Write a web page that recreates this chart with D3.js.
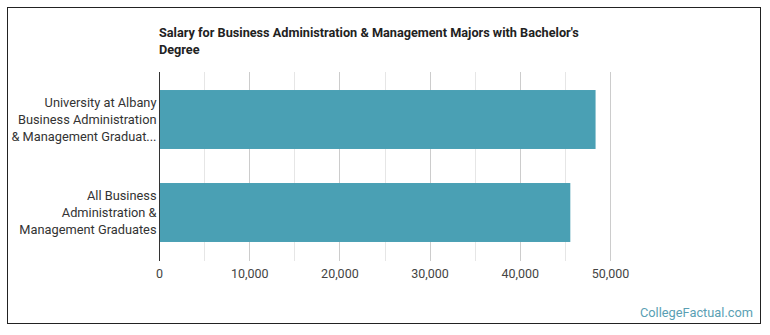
<!DOCTYPE html>
<html>
<head>
<meta charset="utf-8">
<script src="https://cdn.jsdelivr.net/npm/d3@7"></script>
<style>
  body { margin:0; background:#fff; }
  svg { display:block; font-family: Roboto, "Noto Sans", sans-serif; }
</style>
</head>
<body>
<svg id="chart"></svg>
<script>
// chart data
var titleLines = ["Salary for Business Administration & Management Majors with Bachelor's", "Degree"];
var categories = ["albany", "all"];
var categoryLabels = [
  ["University at Albany", "Business Administration", "& Management Graduat..."],
  ["All Business", "Administration &", "Management Graduates"]
];
var salaries = [48400, 45600];
var tickValues = [0, 10000, 20000, 30000, 40000, 50000];
var gridValues = d3.range(0, 50001, 5000);

var width = 770, height = 335;
var plot = {left:159, right:610, top:73, bottom:259};

var svg = d3.select('#chart').attr('width', width).attr('height', height);

// frame
svg.append('rect')
  .attr('x', 7.5).attr('y', 7.5)
  .attr('width', 753).attr('height', 316)
  .style('fill', '#fff').style('stroke', '#222').style('stroke-width', 1);

// title
svg.append('text')
  .attr('x', plot.left).attr('y', 37)
  .style('font-size', '12.7px').style('font-weight', 'bold').style('fill', '#222')
  .selectAll('tspan').data(titleLines).enter().append('tspan')
  .attr('x', plot.left).attr('dy', function(d, i){ return i === 0 ? 0 : 17; })
  .text(function(d){ return d; });

var xScale = d3.scaleLinear().domain([0, 50000]).range([plot.left, plot.right]);
var yScale = d3.scaleBand().domain(categories).range([plot.top, plot.bottom])
  .paddingInner(0.366).paddingOuter(0.183);

// grid
svg.append('g').selectAll('line').data(gridValues).enter().append('line')
  .attr('x1', function(d){ return Math.round(xScale(d)) + 0.5; })
  .attr('x2', function(d){ return Math.round(xScale(d)) + 0.5; })
  .attr('y1', plot.top - 1).attr('y2', plot.bottom + 2)
  .style('stroke', function(d){ return d % 10000 === 0 ? '#ccc' : '#e6e6e6'; })
  .style('stroke-width', 1);

// bars
svg.append('g').selectAll('rect').data(salaries).enter().append('rect')
  .attr('x', xScale(0))
  .attr('y', function(d, i){ return yScale(categories[i]); })
  .attr('width', function(d){ return xScale(d) - xScale(0); })
  .attr('height', yScale.bandwidth())
  .style('fill', '#4aa0b4');

// axis line
svg.append('line')
  .attr('x1', plot.left + 0.5).attr('x2', plot.left + 0.5)
  .attr('y1', plot.top - 1).attr('y2', plot.bottom + 2)
  .style('stroke', '#333');

// x tick labels
var axisX = d3.axisBottom(xScale).tickValues(tickValues).tickSize(0).tickPadding(0)
  .tickFormat(d3.format(','));
var axisXG = svg.append('g').attr('transform', 'translate(0,' + (plot.bottom + 10) + ')').call(axisX);
axisXG.select('.domain').remove();
axisXG.selectAll('text').style('font-size', '12.5px').style('fill', '#444')
  .style('font-family', 'Roboto, "Noto Sans", sans-serif');

// category labels
var labelG = svg.append('g');
categories.forEach(function(c, i){
  var lines = categoryLabels[i];
  var cy = yScale(c) + yScale.bandwidth() / 2;
  var lh = 16.7;
  labelG.append('text')
    .attr('text-anchor', 'end')
    .style('font-size', '12.8px').style('fill', '#333')
    .selectAll('tspan').data(lines).enter().append('tspan')
    .attr('x', plot.left - 2.5)
    .attr('y', function(d, j){ return cy + (j - (lines.length - 1) / 2) * lh + 4.5; })
    .text(function(d){ return d; });
});

// watermark
svg.append('text')
  .attr('x', 753).attr('y', 317).attr('text-anchor', 'end')
  .style('font-size', '12.8px').style('fill', '#5a9fb4')
  .text('CollegeFactual.com');
</script>
</body>
</html>
